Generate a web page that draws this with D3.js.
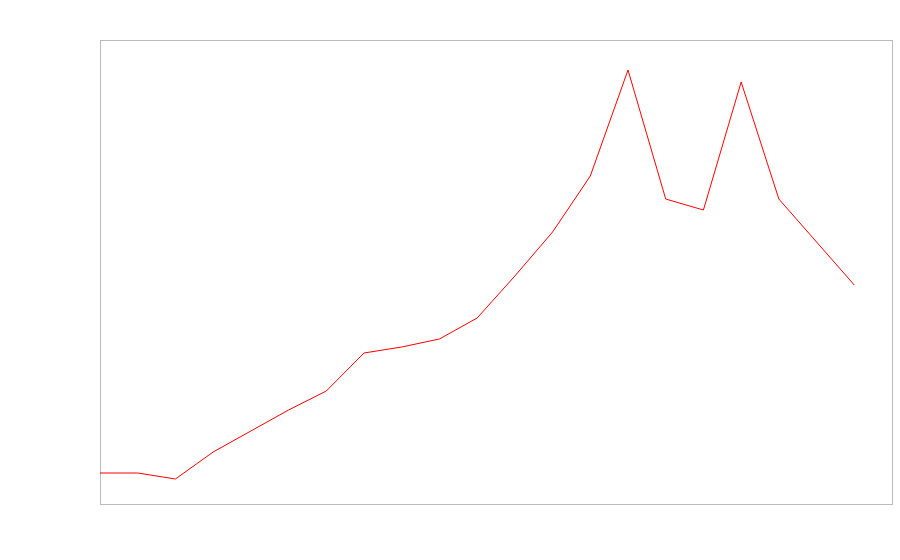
<!DOCTYPE html>
<html><head><meta charset="utf-8">
<script src="https://cdn.jsdelivr.net/npm/d3@7"></script>
<style>html,body{margin:0;padding:0;background:#fff;}</style>
</head><body>
<svg id="chart" width="900" height="560"></svg>
<script>
const indices = d3.range(21);
const values = [31, 31, 25, 52, 73, 94, 113, 151, 157, 165, 186, 228, 272, 328, 434, 305, 294, 422, 305, 262, 219];

const svg = d3.select("#chart");
const m = {left: 100, top: 40, width: 792, height: 464};
const x = d3.scaleLinear().domain([0, 21]).range([m.left, m.left + m.width]);
const y = d3.scaleLinear().domain([0, 464]).range([m.top + m.height, m.top]);

svg.append("rect")
  .attr("x", m.left + 0.5).attr("y", m.top + 0.5)
  .attr("width", m.width).attr("height", m.height)
  .attr("fill", "none").attr("stroke", "#bbb").attr("stroke-width", 1);

const line = d3.line().x((d, i) => x(indices[i])).y(d => y(d));
svg.append("path").datum(values)
  .attr("d", line).attr("fill", "none")
  .attr("stroke", "red").attr("stroke-width", 1);
</script>
</body></html>
